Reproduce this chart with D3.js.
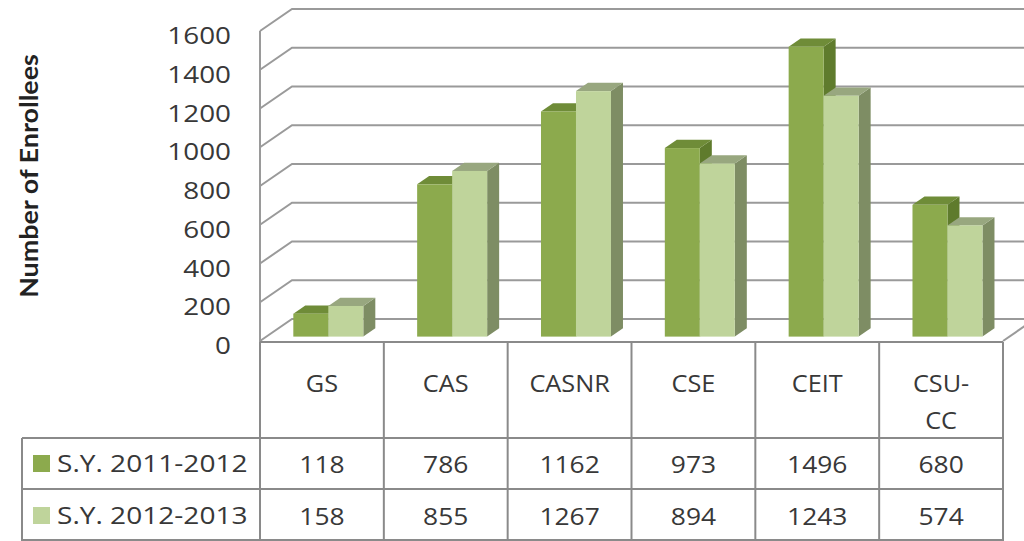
<!DOCTYPE html>
<html>
<head>
<meta charset="utf-8">
<script src="https://cdn.jsdelivr.net/npm/d3@7"></script>
<style>
  body { margin: 0; background: #fff; }
  svg { display: block; }
  text { font-family: "Open Sans", Lato, sans-serif; font-weight: 400; fill: #383838; }
</style>
</head>
<body>
<div id="chart"></div>
<script>
// categories and series
const colleges = ["GS", "CAS", "CASNR", "CSE", "CEIT", "CSU-CC"];
const collegeLines = [["GS"], ["CAS"], ["CASNR"], ["CSE"], ["CEIT"], ["CSU-", "CC"]];
const seriesNames = ["S.Y. 2011-2012", "S.Y. 2012-2013"];
const sy2011 = [118, 786, 1162, 973, 1496, 680];
const sy2012 = [158, 855, 1267, 894, 1243, 574];
const yTicks = [0, 200, 400, 600, 800, 1000, 1200, 1400, 1600];

// colours : front, top, side
const couleurs = [
  { front: "#8caa4d", top: "#6f8c38", side: "#5f7b2d" },
  { front: "#bfd49b", top: "#98a77f", side: "#7e8d64" }
];

const width = 1024, height = 541;
const svg = d3.select("#chart").append("svg")
  .attr("width", width).attr("height", height);

// texte étiré horizontalement (la police d'origine est plus large)
const etire = 1.1;
function texte(parent, tx, ty, str, size, anchor, sx) {
  return parent.append("text")
    .attr("transform", `translate(${tx},${ty}) scale(${sx || etire},1)`)
    .attr("text-anchor", anchor || "middle").attr("dominant-baseline", "central")
    .style("font-size", size + "px").text(str);
}

// 1 : scales
const x = d3.scaleBand().domain(colleges).range([260, 1003]);
const xSerie = d3.scaleBand().domain(seriesNames).range([-35, 35]);
const y = d3.scaleLinear().domain([0, 1600]).range([341, 31]);

// depth of the 3D box (back wall offset)
const profX = 32, profY = -22;
function proj(px, v, z) {
  return [px + z * profX, y(v) + z * profY];
}

// 2 : walls, gridlines
const grille = svg.append("g").attr("stroke", "#9a9a9a").attr("stroke-width", 2).attr("fill", "none");
yTicks.forEach(t => {
  const a = proj(260, t, 0), b = proj(260, t, 1);
  grille.append("path").attr("d", `M${a[0]},${a[1]}L${b[0]},${b[1]}L${width + 10},${b[1]}`);
});
grille.append("line").attr("x1", 260).attr("x2", 260).attr("y1", y(1600)).attr("y2", y(0) + 1);
// floor right edge
const fr = proj(1003, 0, 0), br = proj(1003, 0, 1);
grille.append("line").attr("x1", fr[0]).attr("y1", fr[1]).attr("x2", br[0]).attr("y2", br[1]);

// y labels
const gLab = svg.append("g");
yTicks.forEach(t => texte(gLab, 231, y(t) + 4, t, 24, "end", 1.16));

// axis title
svg.append("text")
  .attr("transform", "translate(29,176) rotate(-90) scale(1.12,1)")
  .attr("text-anchor", "middle").attr("dominant-baseline", "central")
  .style("font-family", "Lato, sans-serif")
  .style("font-size", "24px").style("font-weight", "bold")
  .style("fill", "#222")
  .text("Number of Enrollees");

// 3 : bars
const zF = 0.2, zB = 0.575;
const valeurs = [sy2011, sy2012];
const barres = svg.append("g");
colleges.forEach((c, i) => {
  seriesNames.forEach((s, k) => {
    const v = valeurs[k][i];
    const x0 = x(c) + x.bandwidth() / 2 + xSerie(s);
    const x1 = x0 + xSerie.bandwidth();
    const col = couleurs[k];
    const p = (px, val, z) => proj(px, val, z).join(",");
    const g = barres.append("g");
    // side
    g.append("path").attr("fill", col.side)
      .attr("d", `M${p(x1, 0, zF)}L${p(x1, 0, zB)}L${p(x1, v, zB)}L${p(x1, v, zF)}Z`);
    // top
    g.append("path").attr("fill", col.top)
      .attr("d", `M${p(x0, v, zF)}L${p(x0, v, zB)}L${p(x1, v, zB)}L${p(x1, v, zF)}Z`);
    // front
    const f0 = proj(x0, v, zF), f1 = proj(x1, 0, zF);
    g.append("rect").attr("fill", col.front)
      .attr("x", f0[0]).attr("y", f0[1])
      .attr("width", f1[0] - f0[0]).attr("height", f1[1] - f0[1]);
  });
});

// 4 : data table
const tabTop = 342, row1 = 438, row2 = 489, tabBottom = 541;
const table = svg.append("g").attr("stroke", "#8a8a8a").attr("stroke-width", 2).attr("fill", "none");
table.append("line").attr("x1", 260).attr("x2", 1003).attr("y1", tabTop).attr("y2", tabTop);
[row1, row2].forEach(r => table.append("line").attr("x1", 22).attr("x2", 1003).attr("y1", r).attr("y2", r));
table.append("line").attr("x1", 22).attr("x2", 1003).attr("y1", tabBottom - 1).attr("y2", tabBottom - 1);
table.append("line").attr("x1", 22).attr("x2", 22).attr("y1", row1).attr("y2", tabBottom);
colleges.forEach(c => {
  table.append("line").attr("x1", x(c)).attr("x2", x(c)).attr("y1", tabTop).attr("y2", tabBottom);
});
table.append("line").attr("x1", 1003).attr("x2", 1003).attr("y1", tabTop).attr("y2", tabBottom);

// header labels
const gTab = svg.append("g");
colleges.forEach((c, i) => {
  collegeLines[i].forEach((ligne, j) => {
    texte(gTab, x(c) + x.bandwidth() / 2, 383 + j * 37, ligne, 23);
  });
});

// rows
const rowsY = [463, 515];
seriesNames.forEach((s, k) => {
  svg.append("rect").attr("x", 33).attr("y", rowsY[k] - 8).attr("width", 17).attr("height", 17)
    .attr("fill", couleurs[k].front);
  texte(gTab, 57, rowsY[k], s, 24, "start", 1.17);
  colleges.forEach((c, i) => {
    texte(gTab, x(c) + x.bandwidth() / 2, rowsY[k], valeurs[k][i], 24);
  });
});
</script>
</body>
</html>
